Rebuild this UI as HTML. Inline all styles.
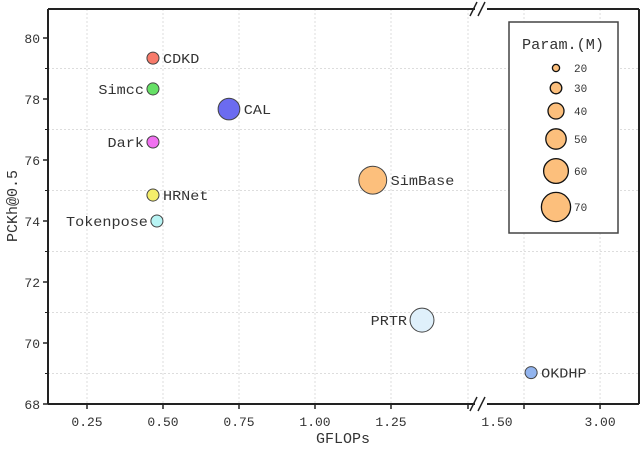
<!DOCTYPE html>
<html><head><meta charset="utf-8"><style>
html,body{margin:0;padding:0;background:#fff;width:640px;height:450px;overflow:hidden}
text{font-family:"Liberation Mono","Noto Sans CJK SC",monospace;fill:#333}
</style></head><body>
<svg id="chart" width="640" height="450">
<g id="grid"></g>
<g id="axes"></g>
<g id="points"></g>
<g id="legend"></g>
</svg>
<script>
const names=["CDKD","Simcc","CAL","Dark","HRNet","Tokenpose","SimBase","PRTR","OKDHP"];
const gflops=[0.467,0.467,0.717,0.467,0.467,0.48,1.19,1.352,1.64];
const pckh=[79.34,78.33,77.67,76.59,74.85,74.0,75.34,70.75,69.03];
const params=[31,31,53,31,31,31,67,58,31];
const colors=["#f77a6a","#66e066","#6b6bf0","#f070f0","#f5ee6a","#b8f4f4","#fcbf7c","#dff0fb","#92b4ee"];
const labelSide=["r","l","r","l","r","l","r","l","r"];
const yTicks=[68,70,72,74,76,78,80];
const xTicksLeft=[0.25,0.5,0.75,1.0,1.25];
const xTicksRight=[1.5,3.0];
const legendVals=[20,30,40,50,60,70];

const NS="http://www.w3.org/2000/svg";
function mk(p,t,a){const e=document.createElementNS(NS,t);for(const k in a)e.setAttribute(k,a[k]);p.appendChild(e);return e;}
const L=48,R=639,T=9,B=404,BRK=480;
function y(v){return 404-(v-68)*30.5;}
function x(v){return v<=1.45?87+(v-0.25)*304:524+(v-1.5)*50.7;}
function rad(p){return 0.22*p-0.8;}
const grid=document.getElementById('grid'),axes=document.getElementById('axes'),pts=document.getElementById('points'),leg=document.getElementById('legend');
for(let v=69;v<80;v+=2){const g=mk(grid,'line',{x1:L,x2:R,y1:y(v),y2:y(v),stroke:'#ddd','stroke-dasharray':'2,2'});
}
const vg=xTicksLeft.map(x).concat([468]).concat(xTicksRight.map(x));
vg.forEach(px=>{const g=mk(grid,'line',{x1:px,x2:px,y1:T,y2:B,stroke:'#ddd','stroke-dasharray':'2,2'});
});
const sp=[[L,T,L,B],[L,B,BRK-5,B],[BRK+7,B,R,B],[L,T,BRK-5,T],[BRK+7,T,R,T],[R,T,R,B]];
sp.forEach(s=>{const e=mk(axes,'line',{x1:s[0],y1:s[1],x2:s[2],y2:s[3],stroke:'#222','stroke-width':2});
});
[T,B].forEach(yy=>{[0,8].forEach(o=>{const e=mk(axes,'line',{x1:BRK-10+o,y1:yy+7,x2:BRK-3+o,y2:yy-7,stroke:'#222','stroke-width':1.5});
});});
yTicks.forEach(v=>{mk(axes,'line',{x1:L-5,x2:L,y1:y(v),y2:y(v),stroke:'#222','stroke-width':1.5});
const t=mk(axes,'text',{x:L-8,y:y(v)+5,'text-anchor':'end','font-size':13});t.textContent=v;
});
for(let v=69;v<80;v+=2)mk(axes,'line',{x1:L-3,x2:L,y1:y(v),y2:y(v),stroke:'#222','stroke-width':1});
[468].concat(xTicksLeft.map(x),xTicksRight.map(x)).forEach(px=>mk(axes,'line',{x1:px,x2:px,y1:B,y2:B+5,stroke:'#222','stroke-width':1.5}));
xTicksLeft.concat(xTicksRight).forEach(v=>{let px=x(v);if(v===1.5)px=497;
const t=mk(axes,'text',{x:px,y:B+22,'text-anchor':'middle','font-size':13});t.textContent=v.toFixed(2);
});
let t=mk(axes,'text',{x:343,y:443,'text-anchor':'middle','font-size':15});t.textContent='GFLOPs';

t=mk(axes,'text',{x:0,y:0,'text-anchor':'middle','font-size':15,transform:'translate(17,206) rotate(-90)'});t.textContent='PCKh@0.5';

names.forEach((n,i)=>{const cx=x(gflops[i]),cy=y(pckh[i]),r=rad(params[i]);
const c=mk(pts,'circle',{cx:cx,cy:cy,r:r,fill:colors[i],stroke:'#444','stroke-width':1});

const right=labelSide[i]==='r';
const tx=mk(pts,'text',{x:right?cx+r+4:cx-r-3,y:cy+5,'text-anchor':right?'start':'end','font-size':14,textLength:n.length*9.1,lengthAdjust:'spacingAndGlyphs'});tx.textContent=n;
});
const box=mk(leg,'rect',{x:509,y:22,width:109,height:211,fill:'#fff',stroke:'#444','stroke-width':1.5});

t=mk(leg,'text',{x:563,y:49,'text-anchor':'middle','font-size':15,textLength:82,lengthAdjust:'spacingAndGlyphs'});t.textContent='Param.(M)';

const ly=[68,88,111,139,171,207];
legendVals.forEach((v,i)=>{const c=mk(leg,'circle',{cx:556,cy:ly[i],r:rad(v),fill:'#fcbf7c',stroke:'#111','stroke-width':1.3});

const tx=mk(leg,'text',{x:574,y:ly[i]+4,'font-size':11,'font-family':'Liberation Sans'});tx.textContent=v;
});
</script>
</body></html>
